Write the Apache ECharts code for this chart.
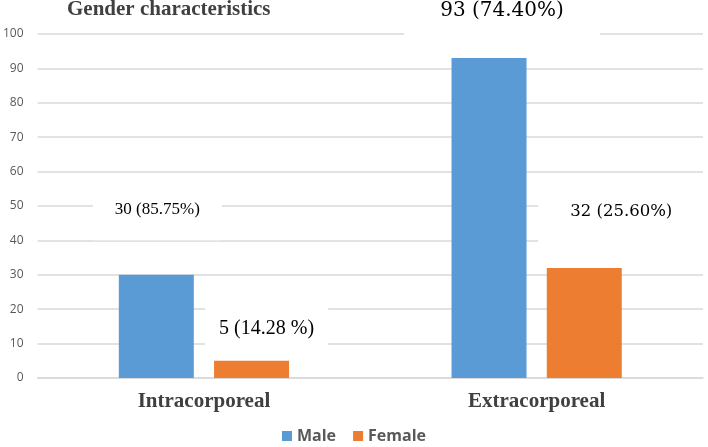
<!DOCTYPE html>
<html>
<head>
<meta charset="utf-8">
<script src="https://cdn.jsdelivr.net/npm/echarts@6/dist/echarts.min.js"></script>
<style>html,body{margin:0;padding:0;background:#fff;}#c{width:708px;height:447px;}</style>
</head>
<body>
<div id="c"></div>
<script>
var categories = ['Intracorporeal', 'Extracorporeal'];
var seriesNames = ['Male', 'Female'];
var maleValues = [30, 93];
var femaleValues = [5, 32];
var malePercents = ['85.75%', '74.40%'];
var femalePercents = ['14.28 %', '25.60%'];
var yTicks = [0, 10, 20, 30, 40, 50, 60, 70, 80, 90, 100];

// label styling (positions relative to bar top, box padding, font)
var maleLabelStyle = [
  {offset: [1, -65], padding: [22, 22], fontFamily: 'Liberation Serif', fontSize: 17},
  {offset: [13, -47], padding: [20, 36], fontFamily: 'DejaVu Serif', fontSize: 20}
];
var femaleLabelStyle = [
  {offset: [15, -32], padding: [14, 14], fontFamily: 'Liberation Serif', fontSize: 20},
  {offset: [37, -56], padding: [22, 32], fontFamily: 'DejaVu Serif', fontSize: 16.5}
];

function buildData(values, percents, styles) {
  return values.map(function (v, i) {
    var s = styles[i];
    return {
      value: v,
      label: {
        show: true,
        position: 'top',
        distance: 0,
        align: 'center',
        verticalAlign: 'middle',
        offset: s.offset,
        formatter: v + ' (' + percents[i] + ')',
        color: '#000',
        fontFamily: s.fontFamily,
        fontSize: s.fontSize,
        backgroundColor: '#fff',
        padding: s.padding
      }
    };
  });
}

var chart = echarts.init(document.getElementById('c'), null, {renderer: 'canvas'});
chart.setOption({
  animation: false,
  backgroundColor: '#fff',
  title: {
    text: 'Gender characteristics',
    left: 67, top: -1, padding: 0,
    textStyle: {fontFamily: 'Liberation Serif', fontWeight: 'bold', fontSize: 21, color: '#404040'}
  },
  legend: {
    data: seriesNames,
    bottom: -2,
    left: 'center',
    icon: 'rect',
    itemWidth: 10,
    itemHeight: 10,
    itemGap: 17,
    textStyle: {fontFamily: 'Open Sans', fontWeight: 'bold', fontSize: 16, color: '#595959'}
  },
  grid: {left: 34, right: 5, top: 34, bottom: 69, containLabel: false},
  xAxis: {
    type: 'category',
    data: categories,
    axisTick: {show: false},
    axisLine: {lineStyle: {color: '#d9d9d9', width: 1.5}},
    axisLabel: {margin: 13, fontFamily: 'Liberation Serif', fontWeight: 'bold', fontSize: 21, color: '#404040'}
  },
  yAxis: {
    type: 'value',
    min: yTicks[0],
    max: yTicks[yTicks.length - 1],
    interval: 10,
    axisLine: {show: false},
    axisTick: {show: false},
    axisLabel: {margin: 14, fontFamily: 'Open Sans', fontSize: 12, color: '#595959'},
    splitLine: {lineStyle: {color: '#d9d9d9', width: 1.5}}
  },
  series: [
    {
      name: seriesNames[0], type: 'bar', barWidth: 75, barGap: '27%',
      itemStyle: {color: '#5b9bd5'},
      data: buildData(maleValues, malePercents, maleLabelStyle)
    },
    {
      name: seriesNames[1], type: 'bar', barWidth: 75, barGap: '27%',
      itemStyle: {color: '#ed7d31'},
      data: buildData(femaleValues, femalePercents, femaleLabelStyle)
    }
  ]
});
</script>
</body>
</html>
